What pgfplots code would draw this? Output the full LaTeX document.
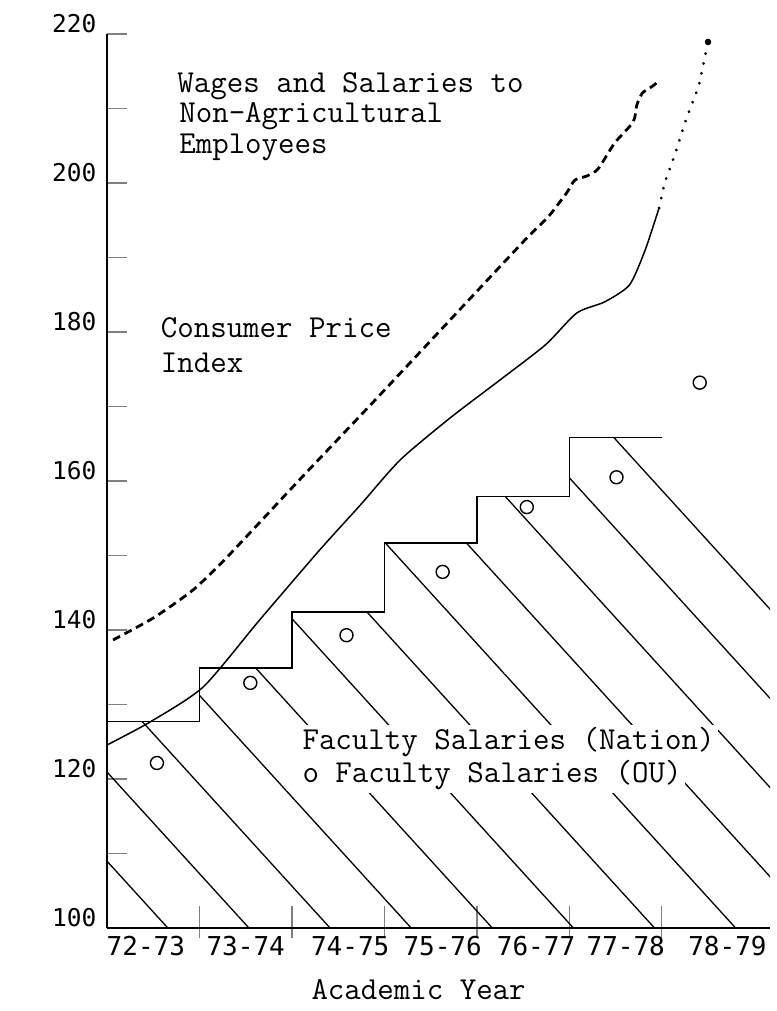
\documentclass[border=0pt]{standalone}
\usepackage{fontspec}
\usepackage{pgfplots}
\pgfplotsset{compat=1.18}
\usetikzlibrary{patterns.meta}
\newfontfamily\tickfont{DejaVu Sans Mono}
\newcommand{\tf}{\tickfont\fontsize{24.5}{24.5}\selectfont}
\newcommand{\txf}{\tickfont\fontsize{26}{26}\selectfont}
\newcommand{\af}{\ttfamily\fontsize{32}{31}\selectfont}
\begin{document}
\begin{tikzpicture}
\path[use as bounding box] (-107pt,-83pt) rectangle (669pt,928pt);
\begin{axis}[
  scale only axis,
  width=663pt, height=894pt,
  xmin=0, xmax=7.17, ymin=100, ymax=220,
  axis lines*=left,
  axis line style={-},
  x axis line style={line width=1.1pt},
  y axis line style={line width=1.8pt},
  clip=false,
  tick align=inside,
  ytick={100,110,...,220},
  yticklabels={100,,120,,140,,160,,180,,200,,220},
  ytick style={line width=1.2pt, /pgfplots/major tick length=20pt},
  yticklabel style={font=\tf, xshift=-7pt, yshift=10pt},
  xtick={1,2,3,4,5,6},
  xticklabels={},
  xtick style={line width=1.3pt, /pgfplots/major tick length=32pt, yshift=-10pt},
  extra x ticks={0.42,1.5,2.63,3.63,4.64,5.61,6.71},
  extra x tick labels={72-73,73-74,74-75,75-76,76-77,77-78,78-79},
  extra x tick style={xtick style={draw=none}, major tick length=0pt, xticklabel style={font=\txf, yshift=-5pt}},
  /pgf/number format/assume math mode=true,
]
% hatched area under Faculty Salaries (Nation)
\addplot[draw=none, pattern={Lines[angle=-47.7, distance=60pt, line width=1.3pt]}, pattern color=black, forget plot]
  coordinates {(0,100) (0,127.7) (1,127.7) (1,134.9) (2,134.9) (2,142.4) (3,142.4) (3,151.7) (4,151.7) (4,157.9) (5,157.9) (5,165.8) (6,165.8) (7.17,143) (7.17,100) (0,100)};
% staircase outline
\addplot[const plot mark left, black, line width=1.4pt, forget plot]
  coordinates {(0,127.7) (1,134.9) (2,142.4) (3,151.7) (4,157.9) (5,165.8) (6,165.8)};
% Consumer Price Index (solid)
\addplot[black, line width=1.5pt, smooth, tension=0.4]
  coordinates {(0,124.56) (0.465,127.65) (1.04,132.35) (1.65,141.34) (2.30,150.74) (2.74,156.78) (3.17,162.82) (3.71,168.46) (4.25,173.56) (4.74,178.26) (5.08,182.55) (5.38,184.03) (5.65,186.31) (5.82,191.0) (5.97,196.64)};
% CPI projection (dotted)
\addplot[black, line width=3pt, dash pattern=on 0.1pt off 10pt, line cap=round]
  coordinates {(5.97,196.64) (6.03,200.0) (6.14,203.76) (6.26,208.46) (6.40,213.02) (6.50,218.93)};
\addplot[only marks, mark=*, mark size=3pt, black] coordinates {(6.50,218.93)};
% Wages and Salaries (dashed)
\addplot[black, line width=2.8pt, dash pattern=on 8pt off 5pt, smooth, tension=0.4]
  coordinates {(0.065,138.66) (0.50,141.61) (0.93,145.37) (1.30,149.80) (2.09,160.27) (2.90,170.87) (3.71,181.61) (4.52,192.35) (4.77,195.44) (4.97,198.66) (5.06,200.40) (5.19,200.94) (5.31,201.88) (5.49,205.37) (5.69,208.19) (5.73,210.47) (5.79,212.08) (5.90,213.0) (5.98,213.83)};
% Faculty salaries OU (circles)
\addplot[only marks, mark=o, mark size=6.5pt, line width=1.4pt, black]
  coordinates {(0.54,122.15) (1.55,132.9) (2.59,139.3) (3.63,147.8) (4.54,156.5) (5.51,160.5) (6.41,173.2)};
% annotations
\node[anchor=base west, inner sep=0pt, font=\af] at (axis cs:0.76,212.2) {Wages and Salaries to};
\node[anchor=base west, inner sep=0pt, font=\af] at (axis cs:0.78,208.1) {Non-Agricultural};
\node[anchor=base west, inner sep=0pt, font=\af] at (axis cs:0.78,204.0) {Employees};
\node[anchor=base west, inner sep=0pt, font=\af] at (axis cs:0.58,179.3) {Consumer Price};
\node[anchor=base west, inner sep=0pt, font=\af] at (axis cs:0.58,174.6) {Index};
\node[anchor=base west, inner sep=3pt, fill=white, font=\af] at (axis cs:2.08,123.9) {Faculty Salaries (Nation)};
\node[anchor=base west, inner sep=3pt, fill=white, font=\af] at (axis cs:2.08,119.5) {o Faculty Salaries (OU)};
\node[anchor=base, inner sep=0pt, font=\af] at (axis cs:3.37,90.34) {Academic Year};
\end{axis}
\end{tikzpicture}
\end{document}
